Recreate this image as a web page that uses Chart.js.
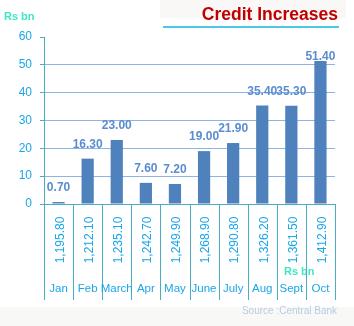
<!DOCTYPE html>
<html>
<head>
<meta charset="utf-8" />
<title>Credit Increases</title>
<script src="https://cdn.jsdelivr.net/npm/chart.js"></script>
<style>
  html, body { margin: 0; padding: 0; background: #fff; }
  #wrap { position: relative; width: 354px; height: 326px; }
  #chart { position: absolute; left: 0; top: 0; }
</style>
</head>
<body>
<div id="wrap">
  <canvas id="chart" width="354" height="326"></canvas>
</div>
<script>
// monthly credit increase (Rs bn) and outstanding credit stock
const months = ['Jan', 'Feb', 'March', 'Apr', 'May', 'June', 'July', 'Aug', 'Sept', 'Oct'];
const increases = [0.70, 16.30, 23.00, 7.60, 7.20, 19.00, 21.90, 35.40, 35.30, 51.40];
const totals = ['1,195.80', '1,212.10', '1,235.10', '1,242.70', '1,249.90', '1,268.90', '1,290.80', '1,326.20', '1,361.50', '1,412.90'];
const yTicks = [0, 10, 20, 30, 40, 50, 60];

const FONT = '"Liberation Sans", Arial, sans-serif';
const TEAL = '#4bacc6';

// header, footer band and value labels
const decor = {
  id: 'decor',
  beforeDraw(chart) {
    const ctx = chart.ctx;
    ctx.save();
    // title band
    ctx.fillStyle = '#f9f8f6';
    ctx.fillRect(160, 0, 186, 18);
    ctx.fillStyle = '#f8f8f6';
    ctx.fillRect(0, 307, 354, 19);
    ctx.fillStyle = '#c00000';
    ctx.font = 'bold 17.5px ' + FONT;
    ctx.textAlign = 'right';
    ctx.textBaseline = 'alphabetic';
    ctx.fillText('Credit Increases', 338, 20);
    ctx.strokeStyle = '#4fc8e2';
    ctx.lineWidth = 2;
    ctx.beginPath();
    ctx.moveTo(163, 27);
    ctx.lineTo(339, 27);
    ctx.stroke();

    ctx.fillStyle = '#3ee8c2';
    ctx.font = 'bold 11px ' + FONT;
    ctx.textAlign = 'left';
    ctx.textBaseline = 'middle';
    ctx.fillText('Rs bn', 4, 17);
    ctx.fillText('Rs bn', 284, 272);

    ctx.fillStyle = '#b8cce4';
    ctx.font = '10px ' + FONT;
    ctx.textAlign = 'right';
    ctx.fillText('Source :Central Bank', 337, 311);
    ctx.restore();
  },
  afterDatasetsDraw(chart) {
    const ctx = chart.ctx;
    const x = chart.scales.x;
    const area = chart.chartArea;
    const meta = chart.getDatasetMeta(0);
    ctx.save();

    // category table below the axis
    ctx.strokeStyle = TEAL;
    ctx.lineWidth = 1;
    const step = (area.right - area.left) / months.length;
    for (let i = 0; i <= months.length; i++) {
      const px = Math.round(area.left + i * step) + 0.5;
      ctx.beginPath();
      ctx.moveTo(px, area.bottom);
      ctx.lineTo(px, 300);
      ctx.stroke();
    }
    ctx.fillStyle = '#1aa6e8';
    months.forEach((m, i) => {
      const cx = x.getPixelForValue(i);
      ctx.save();
      ctx.translate(cx + 2, 240);
      ctx.rotate(-Math.PI / 2);
      ctx.font = '12px ' + FONT;
      ctx.textAlign = 'center';
      ctx.textBaseline = 'middle';
      ctx.fillText(totals[i], 0, 0);
      ctx.restore();
      ctx.font = '11.5px ' + FONT;
      ctx.textAlign = 'center';
      ctx.textBaseline = 'middle';
      ctx.fillText(m, cx, 289);
    });

    // value labels above bars
    ctx.fillStyle = '#5b8ccf';
    ctx.font = 'bold 12px ' + FONT;
    ctx.textAlign = 'center';
    ctx.textBaseline = 'middle';
    meta.data.forEach((bar, i) => {
      const y = Math.max(bar.y - 14, 57);
      ctx.fillText(increases[i].toFixed(2), bar.x, y);
    });
    ctx.restore();
  }
};

new Chart(document.getElementById('chart'), {
  type: 'bar',
  data: {
    labels: months,
    datasets: [{
      data: increases,
      backgroundColor: '#4f81bd',
      borderWidth: 0,
      categoryPercentage: 1,
      barPercentage: 0.42
    }]
  },
  options: {
    responsive: false,
    animation: false,
    layout: { padding: { top: 37, right: 19, bottom: 122, left: 0 } },
    plugins: { legend: { display: false }, tooltip: { enabled: false } },
    scales: {
      x: { display: false },
      y: {
        min: 0,
        max: 60,
        afterFit(s) { s.width = 44; },
        afterBuildTicks(s) { s.ticks = yTicks.map(v => ({ value: v })); },
        border: { color: TEAL, width: 1 },
        grid: {
          color: ctx => (ctx.tick && (ctx.tick.value === 0 ? TEAL : ctx.tick.value === 60 ? 'rgba(0,0,0,0)' : '#8db4e2')),
          tickColor: TEAL,
          tickLength: 4,
          drawTicks: true
        },
        ticks: {
          color: '#1aa6e8',
          font: { family: FONT, size: 12 },
          padding: 8
        }
      }
    }
  },
  plugins: [decor]
});
</script>
</body>
</html>
